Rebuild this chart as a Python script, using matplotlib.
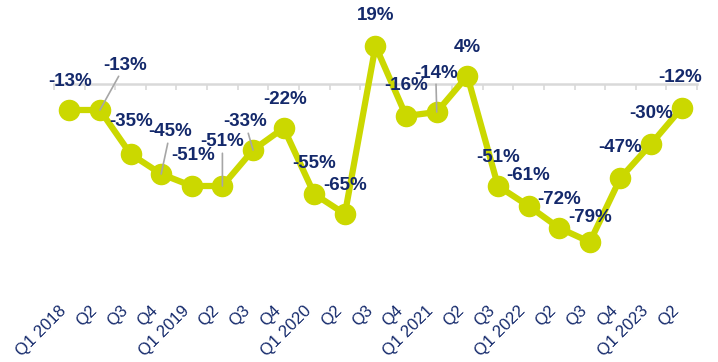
import numpy as np
import matplotlib.pyplot as plt

quarters = ["Q1 2018", "Q2", "Q3", "Q4", "Q1 2019", "Q2", "Q3", "Q4",
            "Q1 2020", "Q2", "Q3", "Q4", "Q1 2021", "Q2", "Q3",
            "Q1 2022", "Q2", "Q3", "Q4", "Q1 2023", "Q2"]
change = [-13, -13, -35, -45, -51, -51, -33, -22, -55, -65, 19,
          -16, -14, 4, -51, -61, -72, -79, -47, -30, -12]

# label placement (offset in pixels from the point) and which get a leader line
label_dx = [1, 25, 1, 9, 1, 0, -8, 1, 0, 0, 0, 0, -1, 0, 0, 0, 0, 0, 0, 0, -2]
label_dy = [29, 45, 32, 42, 30, 44, 28, 29, 31, 29, 30, 30, 39, 29, 29, 30, 29, 25, 31, 30, 30]
leader = [False, True, False, True, False, True, True, False, False, False, False,
          False, True, False, False, False, False, False, False, False, False]

GREEN = "#cbd800"
NAVY = "#14296b"
GRID = "#d9d9d9"

plt.rcParams["font.family"] = ["Liberation Sans", "DejaVu Sans"]

fig = plt.figure(figsize=(7.18, 3.62), dpi=100)
ax = fig.add_axes([54 / 718, 66 / 362, 643 / 718, 296 / 362])

x = np.arange(len(change))
ymin, ymax = -106, 42
ax.set_xlim(-0.5, len(change) - 0.5)
ax.set_ylim(ymin, ymax)

ax.plot(x, change, color=GREEN, lw=4.5, marker="o", ms=14.5,
        solid_capstyle="round", zorder=3)

for i, v in enumerate(change):
    props = None
    if leader[i]:
        props = dict(arrowstyle="-", color="#a6a6a6", lw=1.2,
                     shrinkA=0, shrinkB=0)
    ax.annotate(f"{v}%", (i, v), xytext=(label_dx[i], label_dy[i]),
                textcoords="offset pixels", ha="center", va="center",
                fontsize=13.5, fontweight="bold", color=NAVY,
                arrowprops=props, zorder=4)

for s in ax.spines.values():
    s.set_visible(False)
ax.set_yticks([])
ax.set_xticks(x)
ax.set_xticklabels(quarters, rotation=45, ha="right", fontsize=12,
                   color=NAVY)
ax.tick_params(axis="x", length=0, pad=5)

# zero line with tick marks between categories
zero = (0 - ymin) / (ymax - ymin)
sec = ax.secondary_xaxis(zero)
sec.set_alignment("bottom")
sec.spines["bottom"].set_color(GRID)
sec.spines["bottom"].set_linewidth(1.8)
sec.set_xticks(np.arange(-0.5, len(change), 1.0))
sec.set_xticklabels([])
sec.tick_params(axis="x", direction="out", length=4, width=1.2, color=GRID)

fig.savefig("out.png", dpi=100)
